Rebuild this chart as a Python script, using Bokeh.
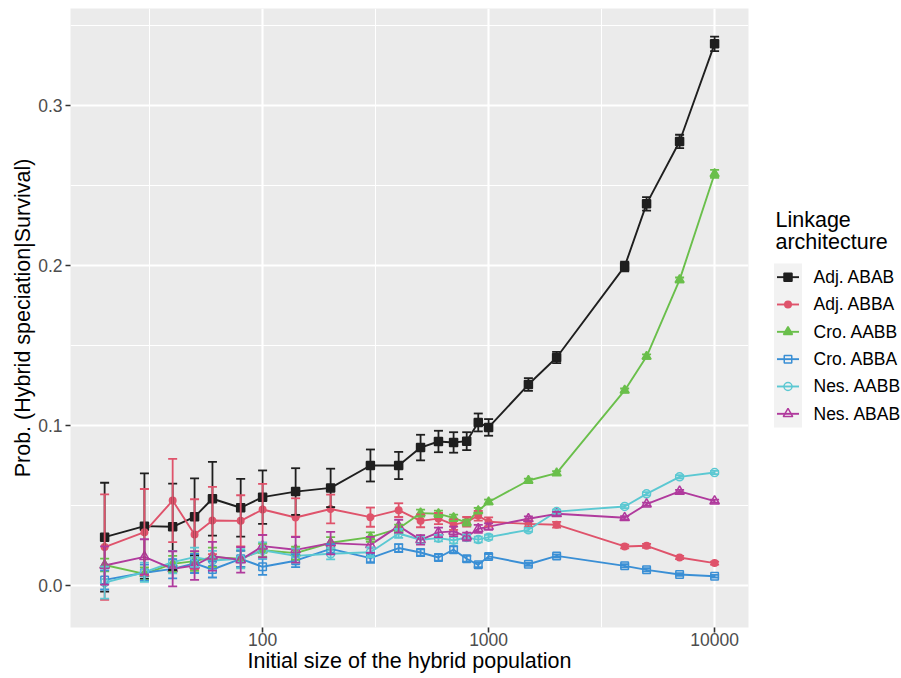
from bokeh.plotting import figure
from bokeh.models import (Range1d, FixedTicker, ColumnDataSource, Whisker, TeeHead,
                          CustomJSTickFormatter)
from bokeh.layouts import row
from bokeh.embed import file_html
from bokeh.resources import INLINE
from bokeh.core.properties import value

# ---- data -------------------------------------------------------------
pop_size = [20, 30, 40, 50, 60, 80, 100, 140, 200, 300, 400, 500, 600, 700,
            800, 900, 1000, 1500, 2000, 4000, 5000, 7000, 10000]

adj_abab = [0.0302, 0.0371, 0.0367, 0.0429, 0.0542, 0.0486, 0.0552, 0.0587, 0.0610,
            0.0750, 0.0750, 0.0862, 0.0900, 0.0894, 0.0902, 0.1019, 0.0988, 0.1256,
            0.1425, 0.1994, 0.2385, 0.2775, 0.3385]
adj_abab_se = [0.034, 0.033, 0.027, 0.024, 0.023, 0.018, 0.0167, 0.0146, 0.012, 0.010,
               0.0085, 0.008, 0.0067, 0.0064, 0.0056, 0.0056, 0.0052, 0.0040, 0.0035,
               0.0030, 0.0042, 0.0042, 0.0045]

adj_abba = [0.0240, 0.0333, 0.0531, 0.0319, 0.0406, 0.0404, 0.0475, 0.0425, 0.0478,
            0.0427, 0.0471, 0.0404, 0.0418, 0.0380, 0.0398, 0.0436, 0.0398, 0.0385,
            0.0380, 0.0244, 0.0248, 0.0175, 0.0140]
adj_abba_se = [0.033, 0.027, 0.026, 0.022, 0.021, 0.016, 0.016, 0.012, 0.009, 0.006,
               0.0043, 0.004, 0.0035, 0.0033, 0.003, 0.003, 0.0028, 0.002, 0.0018,
               0.0012, 0.0012, 0.001, 0.0009]

cro_aabb = [0.0128, 0.0073, 0.0135, 0.0152, 0.0177, 0.0167, 0.0220, 0.0202, 0.0267,
            0.0302, 0.0356, 0.0452, 0.0448, 0.0423, 0.0393, 0.0467, 0.0522, 0.0656,
            0.0702, 0.1219, 0.1431, 0.1910, 0.2573]
cro_aabb_se = [0.004, 0.004, 0.005, 0.006, 0.006, 0.005, 0.004, 0.004, 0.0035, 0.003,
               0.0025, 0.0022, 0.002, 0.002, 0.0018, 0.0018, 0.0015, 0.0012, 0.0012,
               0.0012, 0.0014, 0.0015, 0.0025]

cro_abba = [0.0035, 0.0080, 0.0104, 0.0138, 0.0100, 0.0167, 0.0117, 0.0155, 0.0229,
            0.0171, 0.0234, 0.0206, 0.0175, 0.0224, 0.0167, 0.0129, 0.0182, 0.0133,
            0.0185, 0.0123, 0.0098, 0.0069, 0.0058]
cro_abba_se = [0.006, 0.005, 0.006, 0.006, 0.005, 0.005, 0.005, 0.004, 0.003, 0.003,
               0.0025, 0.002, 0.002, 0.002, 0.0018, 0.0015, 0.0015, 0.001, 0.001,
               0.001, 0.001, 0.0008, 0.0008]

nes_aabb = [0.0018, 0.0083, 0.0146, 0.0177, 0.0156, 0.0167, 0.0220, 0.0185, 0.0198,
            0.0208, 0.0325, 0.0286, 0.0296, 0.0283, 0.0300, 0.0287, 0.0302, 0.0348,
            0.0462, 0.0494, 0.0573, 0.0679, 0.0706]
nes_aabb_se = [0.010, 0.006, 0.007, 0.006, 0.006, 0.006, 0.005, 0.0045, 0.0035, 0.003,
               0.0028, 0.0025, 0.002, 0.002, 0.002, 0.0018, 0.0015, 0.0012, 0.0012,
               0.001, 0.001, 0.001, 0.001]

nes_abab = [0.0125, 0.0179, 0.0104, 0.0125, 0.0183, 0.0160, 0.0246, 0.0223, 0.0265,
            0.0254, 0.0371, 0.0285, 0.0332, 0.0338, 0.0305, 0.0354, 0.0368, 0.0417,
            0.0448, 0.0423, 0.0508, 0.0588, 0.0527]
nes_abab_se = [0.012, 0.011, 0.011, 0.009, 0.009, 0.008, 0.007, 0.008, 0.007, 0.005,
               0.004, 0.003, 0.003, 0.003, 0.0025, 0.0025, 0.002, 0.0015, 0.0012,
               0.001, 0.001, 0.001, 0.001]

series_names = ["Adj. ABAB", "Adj. ABBA", "Cro. AABB", "Cro. ABBA", "Nes. AABB", "Nes. ABAB"]
series_values = [adj_abab, adj_abba, cro_aabb, cro_abba, nes_aabb, nes_abab]
series_errors = [adj_abab_se, adj_abba_se, cro_aabb_se, cro_abba_se, nes_aabb_se, nes_abab_se]

x_ticks = [100, 1000, 10000]
x_tick_labels = ["100", "1000", "10000"]
x_minor = [31.62, 316.2, 3162.3]
y_ticks = [0.0, 0.1, 0.2, 0.3]
y_tick_labels = ["0.0", "0.1", "0.2", "0.3"]
y_minor = [0.05, 0.15, 0.25, 0.35]

legend_title_lines = ["Linkage", "architecture"]

# ---- styles -----------------------------------------------------------
colors = ["#1F1F1F", "#DF536B", "#6ABF4B", "#3A8FD5", "#5BC8D2", "#B03A9D"]
markers = ["square", "circle", "triangle", "square", "circle", "triangle"]
filled = [True, True, True, False, False, False]
msizes = [8, 6.5, 9, 7.5, 8, 9.5]
FONT = "Liberation Sans"

# shared page geometry (px)
MAIN_W, H = 755, 678
BORDER_TOP, BORDER_BOTTOM = 8, 51

# ---- main panel -------------------------------------------------------
p = figure(width=MAIN_W, height=H, x_axis_type="log",
           x_range=Range1d(10 ** 1.15, 10 ** 4.15), y_range=Range1d(-0.02625, 0.3606),
           output_backend="svg", toolbar_location=None,
           min_border_left=70, min_border_right=7,
           min_border_top=BORDER_TOP, min_border_bottom=BORDER_BOTTOM)
p.background_fill_color = "#EBEBEB"
p.border_fill_color = "white"
p.outline_line_color = None

p.xaxis.ticker = FixedTicker(ticks=x_ticks, minor_ticks=x_minor)
p.yaxis.ticker = FixedTicker(ticks=y_ticks, minor_ticks=y_minor)
p.xaxis.formatter = CustomJSTickFormatter(args=dict(labels=x_tick_labels),
                                          code="return labels[index];")
p.yaxis.formatter = CustomJSTickFormatter(args=dict(labels=y_tick_labels),
                                          code="return labels[index];")

for g in (p.xgrid, p.ygrid):
    g.grid_line_color = "white"
    g.grid_line_width = 2.1
    g.minor_grid_line_color = "white"
    g.minor_grid_line_width = 1.1

for ax in (p.xaxis, p.yaxis):
    ax.axis_line_color = None
    ax.minor_tick_line_color = None
    ax.major_tick_line_color = "#333333"
    ax.major_tick_line_width = 1.6
    ax.major_tick_out = 5
    ax.major_tick_in = 0
    ax.major_label_text_font = FONT
    ax.major_label_text_font_size = "17.5px"
    ax.major_label_text_color = "#4D4D4D"
    ax.axis_label_text_font = FONT
    ax.axis_label_text_font_size = "21.5px"
    ax.axis_label_text_font_style = "normal"
    ax.axis_label_text_color = "black"
    ax.axis_label_standoff = 0

p.xaxis.major_label_standoff = 0
p.yaxis.major_label_standoff = 3
p.xaxis.axis_label = "Initial size of the hybrid population"
p.yaxis.axis_label = "Prob. (Hybrid speciation|Survival)"

sources = []
for vals, errs in zip(series_values, series_errors):
    sources.append(ColumnDataSource(dict(
        x=pop_size, y=vals,
        lower=[v - e for v, e in zip(vals, errs)],
        upper=[v + e for v, e in zip(vals, errs)])))

for src, col in zip(sources, colors):
    p.line("x", "y", source=src, line_color=col, line_width=1.9)

for src, col in zip(sources, colors):
    w = Whisker(source=src, base="x", lower="lower", upper="upper", dimension="height",
                line_color=col, line_width=1.8, level="glyph",
                upper_head=TeeHead(size=9, line_color=col, line_width=1.8),
                lower_head=TeeHead(size=9, line_color=col, line_width=1.8))
    p.add_layout(w)

for src, col, mk, fl, sz in zip(sources, colors, markers, filled, msizes):
    p.scatter("x", "y", source=src, marker=mk, size=sz, line_color=col,
              fill_color=col if fl else None, line_width=1.5)

# ---- legend panel: page pixel coordinates, y pointing down -----------
LEG_W = 901 - MAIN_W
leg = figure(width=LEG_W, height=H, title=None,
             x_range=Range1d(MAIN_W, 901),
             y_range=Range1d(H - BORDER_BOTTOM, BORDER_TOP),
             output_backend="svg", toolbar_location=None,
             min_border_left=0, min_border_right=0,
             min_border_top=BORDER_TOP, min_border_bottom=BORDER_BOTTOM,
             x_axis_type=None, y_axis_type=None)
leg.outline_line_color = None
leg.background_fill_color = "white"
leg.border_fill_color = "white"

leg.text(x=[775, 775], y=[219.5, 241], text=legend_title_lines,
         text_font=value(FONT), text_font_size="21.5px", text_color="black",
         text_baseline="middle", text_align="left")

key_h = 27.33
key_top = 263.0
n = len(series_names)
leg.quad(left=[773.5], right=[801.5], top=[key_top], bottom=[key_top + n * key_h],
         fill_color="#F2F2F2", line_color=None)

centres = [key_top + key_h * (i + 0.5) for i in range(n)]
for i, (name, col, mk, fl, sz) in enumerate(zip(series_names, colors, markers, filled, msizes)):
    cy = centres[i]
    leg.line(x=[776.5, 798.5], y=[cy, cy], line_color=col, line_width=1.9)
    leg.scatter(x=[787.5], y=[cy], marker=mk, size=sz, line_color=col,
                fill_color=col if fl else None, line_width=1.5)

leg.text(x=[813] * n, y=centres, text=series_names, text_font=value(FONT),
         text_font_size="17.5px", text_color="black", text_baseline="middle",
         text_align="left")

layout = row(p, leg)
open("out.html", "w").write(file_html(layout, INLINE))
